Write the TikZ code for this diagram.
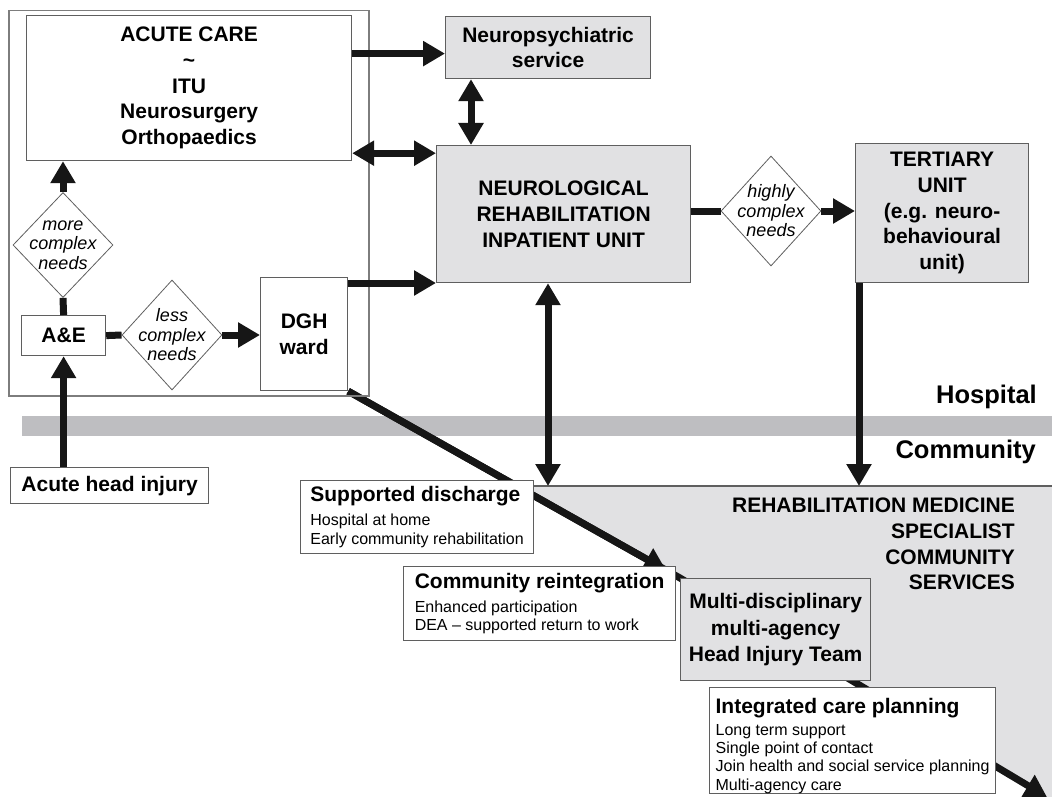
\documentclass[tikz,border=0pt]{standalone}
\usepackage{fontspec}
\setmainfont{Liberation Sans}
\usepackage{xcolor}
\usetikzlibrary{arrows.meta, positioning, shapes.geometric, calc}
\definecolor{unitGrey}{RGB}{225,225,227}
\definecolor{bandGrey}{RGB}{190,190,193}
\definecolor{unitLine}{RGB}{95,95,95}
\definecolor{groupLine}{RGB}{125,125,125}
\definecolor{flowBlack}{RGB}{22,22,22}
\newcommand{\unitfont}{\fontsize{21}{25.7}\selectfont\bfseries}
\newcommand{\teamfont}{\fontsize{21}{26.5}\selectfont\bfseries}
\newcommand{\zonefont}{\fontsize{25.5}{30}\selectfont\bfseries}
\newcommand{\notefont}{\fontsize{16}{18.7}\selectfont}
\newcommand{\needsfont}{\fontsize{18}{19.5}\selectfont\itshape}
\newcommand{\notetitle}[1]{{\fontsize{21}{24}\selectfont\bfseries #1}}
\pgfdeclarelayer{background}
\pgfdeclarelayer{links}
\pgfsetlayers{background,links,main}

\begin{document}
\begin{tikzpicture}[
    x=1pt, y=-1pt,
    group/.style={draw=groupLine, line width=1.5pt, anchor=north west, inner sep=0pt},
    unit/.style={draw=unitLine, line width=1.2pt, fill=white, anchor=north west, inner sep=0pt, align=center, font=\unitfont},
    unitgrey/.style={unit, fill=unitGrey},
    notes/.style={unit, align=left, font=\notefont},
    choice/.style={diamond, draw=unitLine, line width=0.8pt, fill=white, inner sep=0pt, minimum width=100pt, minimum height=110pt},
    needs/.style={align=center, font=\needsfont, inner sep=0pt},
    zone/.style={font=\zonefont, inner sep=0pt},
    feed/.style={draw=flowBlack, line width=7pt},
    flow/.style={feed, -{Triangle[length=22pt, width=24pt]}},
    twoway/.style={feed, {Triangle[length=22pt, width=24pt]}-{Triangle[length=22pt, width=24pt]}}
]
    \useasboundingbox (0,0) rectangle (1052,797);

    % hospital side
    \node[group, minimum width=360pt, minimum height=385pt] (hospital) at (8,10) {};
    \node[unit, minimum width=325pt, minimum height=145pt] (acute) at (26,15) {ACUTE CARE\\\textasciitilde\\ITU\\Neurosurgery\\Orthopaedics};
    \node[unitgrey, minimum width=205pt, minimum height=62pt] (psych) at (445,16) {Neuropsychiatric\\service};
    \node[unitgrey, minimum width=254pt, minimum height=137pt] (nriu) at (436,145) {NEUROLOGICAL\\REHABILITATION\\INPATIENT UNIT};
    \node[unitgrey, minimum width=173pt, minimum height=139pt] (tertiary) at (855,143) {TERTIARY\\UNIT\\(e.g. neuro-\\behavioural\\unit)};
    \node[unit, minimum width=84pt, minimum height=40pt] (ae) at (21,315) {A\&E};
    \node[unit, minimum width=87pt, minimum height=113pt] (dgh) at (260,277) {DGH\\ward};
    \node[choice, minimum height=105pt, label={[needs]center:{more\\complex\\needs}}] (more) at (63,245) {};
    \node[choice, label={[needs]center:{less\\complex\\needs}}] (less) at (172,335) {};
    \node[choice, label={[needs]center:{highly\\complex\\needs}}] (highly) at (771,211) {};
    \node[unit, minimum width=198pt, minimum height=36pt] (injury) at (10,467) {Acute head injury};

    \node[zone, anchor=base east] (hosplabel) at (1037,403) {Hospital};
    \node[zone, anchor=base east] (commlabel) at (1036,458) {Community};

    % community side
    \coordinate (commtop) at (533,486);
    \coordinate (diagend) at (1047,797);
    \node[notes, minimum width=233pt, minimum height=73pt] (supported) at (300,480) {\notetitle{Supported discharge}\\[5pt]Hospital at home\\Early community rehabilitation};
    \node[notes, minimum width=272pt, minimum height=74pt] (reintegration) at (403,566) {\notetitle{Community reintegration}\\[5pt]Enhanced participation\\DEA -- supported return to work};
    \node[unitgrey, minimum width=190pt, minimum height=102pt, font=\teamfont] (team) at (680,578) {Multi-disciplinary\\multi-agency\\Head Injury Team};
    \node[notes, minimum width=286pt, minimum height=106pt, font=\fontsize{16}{18.3}\selectfont] (planning) at (709,687) {\notetitle{\rule{0pt}{26pt}Integrated care planning}\\[3pt]Long term support\\Single point of contact\\Join health and social service planning\\Multi-agency care};
    \node[font=\fontsize{21}{25.7}\selectfont\bfseries, align=right, anchor=north east, inner sep=0pt] (rmscs) at (1015,498) {REHABILITATION MEDICINE\\SPECIALIST\\COMMUNITY\\SERVICES};

    \begin{pgfonlayer}{background}
        \fill[bandGrey] (22,416) rectangle (1052,436);
        \fill[unitGrey] (commtop) -- (1052,486) -- (1052,797) -- (diagend) -- (team.north west) -- ($(dgh.south east)!0.5586!(team.north west)$) -- cycle;
        \draw[unitLine, line width=1.2pt] (commtop) -- (1052,486);
    \end{pgfonlayer}
    \begin{pgfonlayer}{links}
        \draw[flow] (dgh.south east) -- (team.north west) -- (diagend);
        \draw[flow, shorten >=16pt] (dgh.south east) -- (team.north west);
    \end{pgfonlayer}

    \coordinate (psychin) at ([yshift=-6pt]psych.west);
    \coordinate (psychfoot) at ([xshift=26pt]psych.south west);
    \coordinate (acutefoot) at ([yshift=8pt]acute.south east);
    \coordinate (dghtop) at ([yshift=-6pt]dgh.north east);
    \coordinate (tertfoot) at ([xshift=4pt]tertiary.south west);
    \coordinate (nriufoot) at ([xshift=112pt]nriu.south west);

    \draw[flow] (acute.east |- psychin) -- (psychin);
    \draw[twoway] (psychfoot) -- (psychfoot |- nriu.north);
    \draw[twoway] (acutefoot) -- (acutefoot -| nriu.west);
    \draw[flow] (dghtop) -- (dghtop -| nriu.west);
    \draw[feed] (highly.west -| nriu.east) -- (highly.west);
    \draw[flow] (highly.east) -- (highly.east -| tertiary.west);
    \draw[flow] (tertfoot) -- (tertfoot |- commtop);
    \draw[twoway] (nriufoot) -- (nriufoot |- commtop);
    \draw[flow] (ae.south |- injury.north) -- (ae.south);
    \draw[feed] (ae.north) -- (more.south);
    \draw[flow] (more.north) -- (more.north |- acute.south);
    \draw[feed] (ae.east) -- (less.west);
    \draw[flow] (less.east) -- (less.east -| dgh.west);
\end{tikzpicture}
\end{document}
